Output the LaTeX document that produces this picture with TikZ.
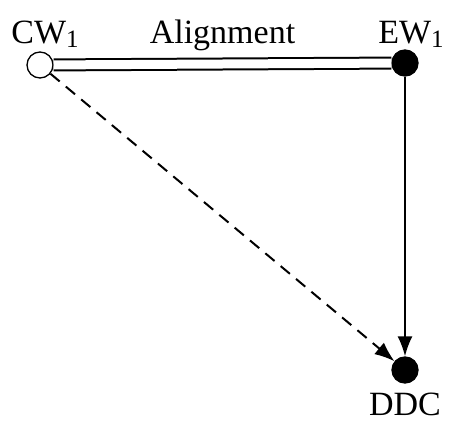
\documentclass[tikz,border=0pt]{standalone}
\usepackage{fontspec}
\setmainfont{Liberation Serif}
\usepackage{tikz}
\usetikzlibrary{arrows.meta,positioning,calc}

\newcommand{\lowone}{\raisebox{-5pt}{\fontsize{25}{30}\selectfont 1}}

\begin{document}
\begin{tikzpicture}[x=1pt,y=-1pt,
  every node/.style={font=\fontsize{34}{40}\selectfont},
  word/.style={circle,draw,line width=1.3pt,minimum size=26pt,inner sep=0pt},
  tip/.style={-{Latex[length=20pt,width=15pt]}}]
\useasboundingbox (0,0) rectangle (451,423);
\node[word,fill=white] (CW) at (40,65) {};
\node[word,fill=black] (EW) at (405,63) {};
\node[word,fill=black] (DDC) at (405,370) {};
\node[anchor=base] (cwlabel) at (45,43) {CW\lowone};
\node[anchor=base] (ewlabel) at (411,43) {EW\lowone};
\node[anchor=base] (ddclabel) at (405,415) {DDC};
\draw[line width=2pt,double distance=9pt] (CW) -- node[midway,anchor=base,yshift=21pt] (align) {Alignment} (EW);
\draw[line width=2pt,tip] (EW) -- (DDC);
\draw[line width=2pt,tip,dash pattern=on 12pt off 8pt] (CW) -- (DDC);
\end{tikzpicture}
\end{document}
